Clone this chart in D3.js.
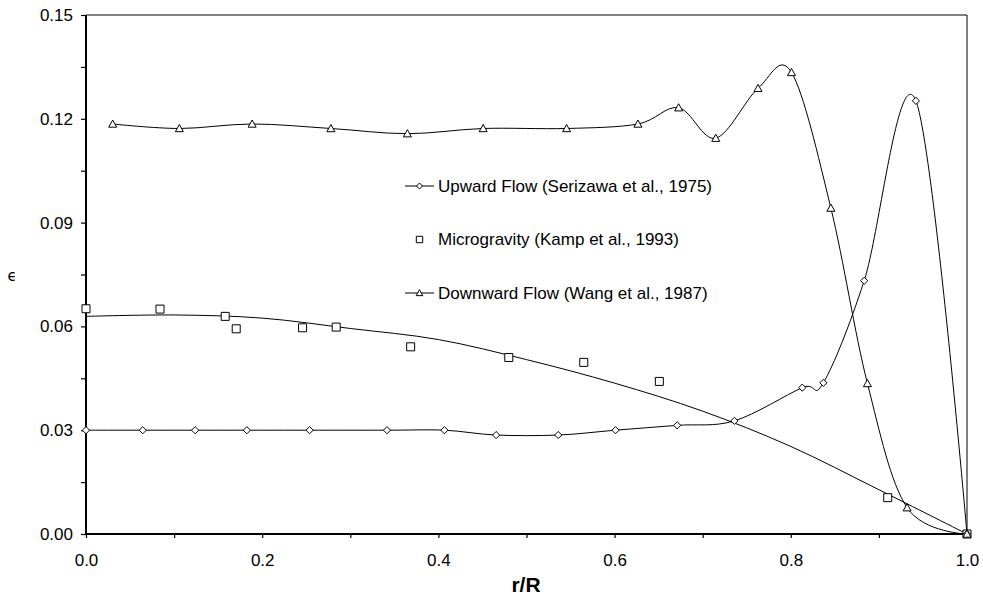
<!DOCTYPE html>
<html>
<head>
<meta charset="utf-8">
<script src="https://cdn.jsdelivr.net/npm/d3@7"></script>
<style>
  html, body { margin: 0; padding: 0; background: #fff; }
  svg { display: block; font-family: "Liberation Sans", Arial, sans-serif; }
</style>
</head>
<body>
<svg id="chart" width="983" height="603"></svg>
<script>
// ---- data ----
const upwardX = [0, 0.0644, 0.1239, 0.1826, 0.2538, 0.3417, 0.4068, 0.4655, 0.536, 0.601, 0.671, 0.736, 0.813, 0.837, 0.8833, 0.942, 1.0];
const upwardY = [0.030, 0.030, 0.030, 0.030, 0.030, 0.030, 0.030, 0.0286, 0.0286, 0.030, 0.0314, 0.0327, 0.0423, 0.0437, 0.0732, 0.1252, 0.0];

const microX = [0, 0.084, 0.158, 0.1705, 0.2458, 0.284, 0.3685, 0.4799, 0.565, 0.6508, 0.910, 1.0];
const microY = [0.0651, 0.0650, 0.0629, 0.0593, 0.0596, 0.0598, 0.0541, 0.0510, 0.0496, 0.0441, 0.0105, 0.0];

// microgravity trend line
const trendX = [0, 0.1, 0.2, 0.3, 0.4, 0.5, 0.6, 0.7, 0.8, 0.9, 1.0];
const trendY = [0.0629, 0.0633, 0.0624, 0.0594, 0.0562, 0.0504, 0.0436, 0.0355, 0.0253, 0.0128, 0.0];

const downX = [0.0303, 0.106, 0.1886, 0.278, 0.3648, 0.4508, 0.5455, 0.6265, 0.6727, 0.7148, 0.7628, 0.8008, 0.8455, 0.887, 0.932, 1.0];
const downY = [0.1185, 0.1172, 0.1185, 0.1172, 0.1157, 0.1172, 0.1172, 0.1185, 0.1232, 0.1144, 0.1288, 0.1334, 0.0942, 0.0435, 0.0076, 0.0];

const xTicks = [0, 0.1, 0.2, 0.3, 0.4, 0.5, 0.6, 0.7, 0.8, 0.9, 1.0];
const xLabelTicks = [0, 0.2, 0.4, 0.6, 0.8, 1.0];
const yTicks = [0, 0.015, 0.03, 0.045, 0.06, 0.075, 0.09, 0.105, 0.12, 0.135, 0.15];
const yLabelTicks = [0, 0.03, 0.06, 0.09, 0.12, 0.15];

const legendLabels = ["Upward Flow (Serizawa et al., 1975)", "Microgravity (Kamp et al., 1993)", "Downward Flow (Wang et al., 1987)"];
const xTitle = "r/R";
const yTitle = "\u03F5";

// ---- layout ----
const L = 86, R = 967, T = 15, B = 534;
const svg = d3.select("#chart");
const x = d3.scaleLinear().domain([0, 1]).range([L, R]);
const y = d3.scaleLinear().domain([0, 0.15]).range([B, T]);

const isLabelX = v => xLabelTicks.some(t => Math.abs(t - v) < 1e-9);
const isLabelY = v => yLabelTicks.some(t => Math.abs(t - v) < 1e-9);

// axes
const yAxis = d3.axisLeft(y).tickValues(yTicks).tickSize(5).tickPadding(8)
  .tickFormat(v => isLabelY(v) ? d3.format(".2f")(v) : "");
const gy = svg.append("g").attr("transform", `translate(${L},0)`).call(yAxis);
gy.select(".domain").remove();
gy.selectAll("text").attr("font-size", 17).attr("fill", "#000").attr("font-family", "Liberation Sans, Arial, sans-serif");
gy.selectAll("line").attr("stroke", "#000").attr("stroke-width", 1.2);

const xAxis = d3.axisBottom(x).tickValues(xTicks).tickSize(4).tickPadding(16)
  .tickFormat(v => isLabelX(v) ? d3.format(".1f")(v) : "");
const gx = svg.append("g").attr("transform", `translate(0,${B})`).call(xAxis);
gx.select(".domain").remove();
gx.selectAll("text").attr("font-size", 17).attr("fill", "#000").attr("font-family", "Liberation Sans, Arial, sans-serif");
gx.selectAll("line").attr("stroke", "#000").attr("stroke-width", 1.2);

// plot frame
svg.append("line").attr("x1", L).attr("x2", R).attr("y1", T).attr("y2", T).attr("stroke", "#000").attr("stroke-width", 1);
svg.append("line").attr("x1", R).attr("x2", R).attr("y1", T).attr("y2", B).attr("stroke", "#000").attr("stroke-width", 1);
svg.append("line").attr("x1", L).attr("x2", L).attr("y1", T).attr("y2", B + 1).attr("stroke", "#000").attr("stroke-width", 2);
svg.append("line").attr("x1", L - 1).attr("x2", R).attr("y1", B).attr("y2", B).attr("stroke", "#000").attr("stroke-width", 2);

// titles
svg.append("text").attr("x", 526).attr("y", 592).attr("text-anchor", "middle")
  .attr("font-size", 21).attr("font-weight", "bold").text(xTitle);
svg.append("text").attr("x", 12).attr("y", 276).attr("text-anchor", "middle").attr("dominant-baseline", "central")
  .attr("font-family", "DejaVu Sans, sans-serif").attr("font-size", 15).text(yTitle);

// lines
const smooth = d3.line().x(d => x(d[0])).y(d => y(d[1])).curve(d3.curveCardinal.tension(0));
const zip = (a, b) => a.map((v, i) => [v, b[i]]);

const up = zip(upwardX, upwardY);
const mg = zip(microX, microY);
const tr = zip(trendX, trendY);
const dn = zip(downX, downY);

svg.append("path").attr("d", smooth(tr)).attr("fill", "none").attr("stroke", "#000").attr("stroke-width", 1);
svg.append("path").attr("d", smooth(up)).attr("fill", "none").attr("stroke", "#000").attr("stroke-width", 1);
svg.append("path").attr("d", smooth(dn)).attr("fill", "none").attr("stroke", "#000").attr("stroke-width", 1);

// markers
const diamond = s => `M0,${-s}L${s},0L0,${s}L${-s},0Z`;
const square = s => `M${-s},${-s}H${s}V${s}H${-s}Z`;
const tri = s => `M0,${-s}L${s},${s * 0.8}L${-s},${s * 0.8}Z`;

function markers(data, shape) {
  svg.append("g").selectAll("path").data(data).join("path")
    .attr("transform", d => `translate(${x(d[0])},${y(d[1])})`)
    .attr("d", shape)
    .attr("fill", "#fff").attr("stroke", "#000").attr("stroke-width", 1);
}
markers(mg, square(4));
markers(up, diamond(3.6));
markers(dn, tri(4));

// legend
const legY = [186, 239.5, 293];
const legShapes = [diamond(3), square(3.2), tri(3.3)];
const legLine = [true, false, true];
legendLabels.forEach((lab, i) => {
  const g = svg.append("g");
  if (legLine[i]) g.append("line").attr("x1", 405).attr("x2", 434).attr("y1", legY[i]).attr("y2", legY[i]).attr("stroke", "#000").attr("stroke-width", 1);
  g.append("path").attr("transform", `translate(419.5,${legY[i]})`).attr("d", legShapes[i])
    .attr("fill", "#fff").attr("stroke", "#000").attr("stroke-width", 1);
  g.append("text").attr("x", 438).attr("y", legY[i]).attr("dominant-baseline", "central")
    .attr("font-size", 17).attr("fill", "#000").text(lab);
});
</script>
</body>
</html>
